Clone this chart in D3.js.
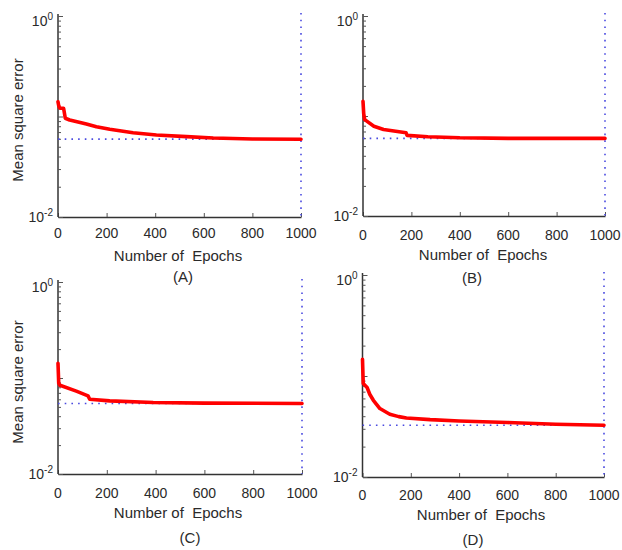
<!DOCTYPE html>
<html>
<head>
<meta charset="utf-8">
<script src="https://cdn.jsdelivr.net/npm/d3@7"></script>
<style>
  html, body { margin: 0; padding: 0; background: #ffffff; }
  svg { display: block; }
  text { font-family: "Liberation Sans", Arial, sans-serif; fill: #2a2a2a; }
</style>
</head>
<body>
<svg id="chart" width="622" height="550"></svg>
<script>
// ---------------- DATA ----------------
const panelNames = ["(A)", "(B)", "(C)", "(D)"];
const xTickValues = [0, 200, 400, 600, 800, 1000];
const yLabeledTicks = [1, 0.01];
const xAxisTitle = "Number of  Epochs";
const yAxisTitle = "Mean square error";
const maxEpochs = 1000;

const epochsA = [0, 3, 7, 23, 30, 48, 117, 158, 213, 309, 405, 529, 639, 800, 1000];
const mseA    = [0.140, 0.128, 0.121, 0.121, 0.096, 0.0923, 0.0842, 0.0792, 0.0746, 0.069, 0.0655, 0.063, 0.0611, 0.0598, 0.0593];
const goalA = 0.0595;

const epochsB = [0, 3, 7, 45, 85, 178, 182, 268, 400, 600, 1000];
const mseB    = [0.140, 0.105, 0.092, 0.079, 0.0734, 0.068, 0.064, 0.062, 0.0605, 0.0598, 0.0597];
const goalB = 0.0597;

const epochsC = [0, 3, 8, 75, 123, 130, 212, 390, 600, 1000];
const mseC    = [0.1426, 0.088, 0.0841, 0.0729, 0.0651, 0.0601, 0.0578, 0.0556, 0.0548, 0.0543];
const goalC = 0.0543;

const epochsD = [0, 3, 19, 30, 45, 72, 113, 150, 182, 280, 400, 600, 800, 1000];
const mseD    = [0.146, 0.0843, 0.0769, 0.066, 0.0575, 0.0476, 0.0418, 0.0396, 0.0384, 0.037, 0.0359, 0.0346, 0.0333, 0.0325];
const goalD = 0.0325;

// ---------------- LAYOUT ----------------
const panels = [
  { name: panelNames[0], ep: epochsA, mse: mseA, goal: goalA, x0: 58,  x1: 301, yTop: 16,  yBot: 217,
    tickY: 238, titleX: 178, titleY: 261, capX: 183, capY: 282, yTitle: true, yTitleY: 120 },
  { name: panelNames[1], ep: epochsB, mse: mseB, goal: goalB, x0: 363, x1: 605, yTop: 16,  yBot: 216,
    tickY: 240, titleX: 483, titleY: 260, capX: 472, capY: 283, yTitle: false },
  { name: panelNames[2], ep: epochsC, mse: mseC, goal: goalC, x0: 58,  x1: 302, yTop: 282, yBot: 474,
    tickY: 498, titleX: 178, titleY: 518, capX: 190, capY: 543, yTitle: true, yTitleY: 382 },
  { name: panelNames[3], ep: epochsD, mse: mseD, goal: goalD, x0: 362.5, x1: 604, yTop: 275, yBot: 477,
    tickY: 500, titleX: 481, titleY: 520, capX: 473, capY: 545, yTitle: false }
];

const svg = d3.select("#chart");

// all log ticks (major+minor) for 0.01..1
const logTicks = d3.scaleLog().domain([0.01, 1]).ticks();

panels.forEach(p => {
  const x = d3.scaleLinear().domain([0, maxEpochs]).range([p.x0, p.x1]);
  const y = d3.scaleLog().domain([0.01, 1]).range([p.yBot, p.yTop]);
  const g = svg.append("g");

  // x axis (ticks inward)
  const xa = g.append("g").attr("transform", `translate(0,${p.yBot})`)
    .call(d3.axisBottom(x).tickValues(xTickValues).tickSizeInner(-4).tickSizeOuter(0).tickFormat(""));
  xa.select(".domain").attr("stroke", "#333").attr("stroke-width", 1.5);
  xa.selectAll(".tick line").attr("stroke", "#555").attr("stroke-width", 1);

  // x tick labels
  xTickValues.forEach(v => {
    g.append("text").attr("x", x(v)).attr("y", p.tickY)
      .attr("text-anchor", "middle").attr("font-size", 14).text(v);
  });

  // y axis (log, ticks inward)
  const ya = g.append("g").attr("transform", `translate(${p.x0},0)`)
    .call(d3.axisLeft(y).tickValues(logTicks).tickSizeInner(-3).tickSizeOuter(0).tickFormat(""));
  ya.select(".domain").attr("stroke", "#333").attr("stroke-width", 1.5)
    .attr("d", `M0,${p.yTop - 2}V${p.yBot}`);
  ya.selectAll(".tick line").attr("stroke", "#555").attr("stroke-width", 1)
    .attr("x2", d => (Math.abs(Math.log10(d) - Math.round(Math.log10(d))) < 1e-9) ? 5 : 3);

  // y tick labels with superscript
  yLabeledTicks.forEach(v => {
    const t = g.append("text").attr("x", p.x0 - 5).attr("y", y(v) + (v === 1 ? 10 : 5))
      .attr("text-anchor", "end").attr("font-size", 14);
    t.append("tspan").text("10");
    t.append("tspan").attr("font-size", 10).attr("dy", -6).text(Math.round(Math.log10(v)));
  });

  // goal line (dotted blue)
  g.append("line")
    .attr("x1", x(0)).attr("x2", x(maxEpochs))
    .attr("y1", y(p.goal)).attr("y2", y(p.goal))
    .attr("stroke", "#4a4ae0").attr("stroke-width", 1.6).attr("stroke-dasharray", "1.6,5.1");

  // vertical dotted line at final epoch
  g.append("line")
    .attr("x1", x(maxEpochs)).attr("x2", x(maxEpochs))
    .attr("y1", p.yTop - 3).attr("y2", p.yBot)
    .attr("stroke", "#4a4ae0").attr("stroke-width", 1.6).attr("stroke-dasharray", "1.6,5.1");

  // training curve
  const pts = p.ep.map((e, i) => [e, p.mse[i]]);
  g.append("path").datum(pts)
    .attr("fill", "none").attr("stroke", "#ff0000").attr("stroke-width", 3.6)
    .attr("stroke-linejoin", "round").attr("stroke-linecap", "round")
    .attr("d", d3.line().x(d => x(d[0])).y(d => y(d[1])));

  // x axis title
  g.append("text").attr("x", p.titleX).attr("y", p.titleY)
    .attr("text-anchor", "middle").attr("font-size", 15).attr("xml:space", "preserve")
    .style("white-space", "pre").text(xAxisTitle);

  // caption
  g.append("text").attr("x", p.capX).attr("y", p.capY)
    .attr("text-anchor", "middle").attr("font-size", 15).text(p.name);

  // y axis title
  if (p.yTitle) {
    g.append("text")
      .attr("transform", `translate(23,${p.yTitleY}) rotate(-90)`)
      .attr("text-anchor", "middle").attr("font-size", 15).text(yAxisTitle);
  }
});
</script>
</body>
</html>
